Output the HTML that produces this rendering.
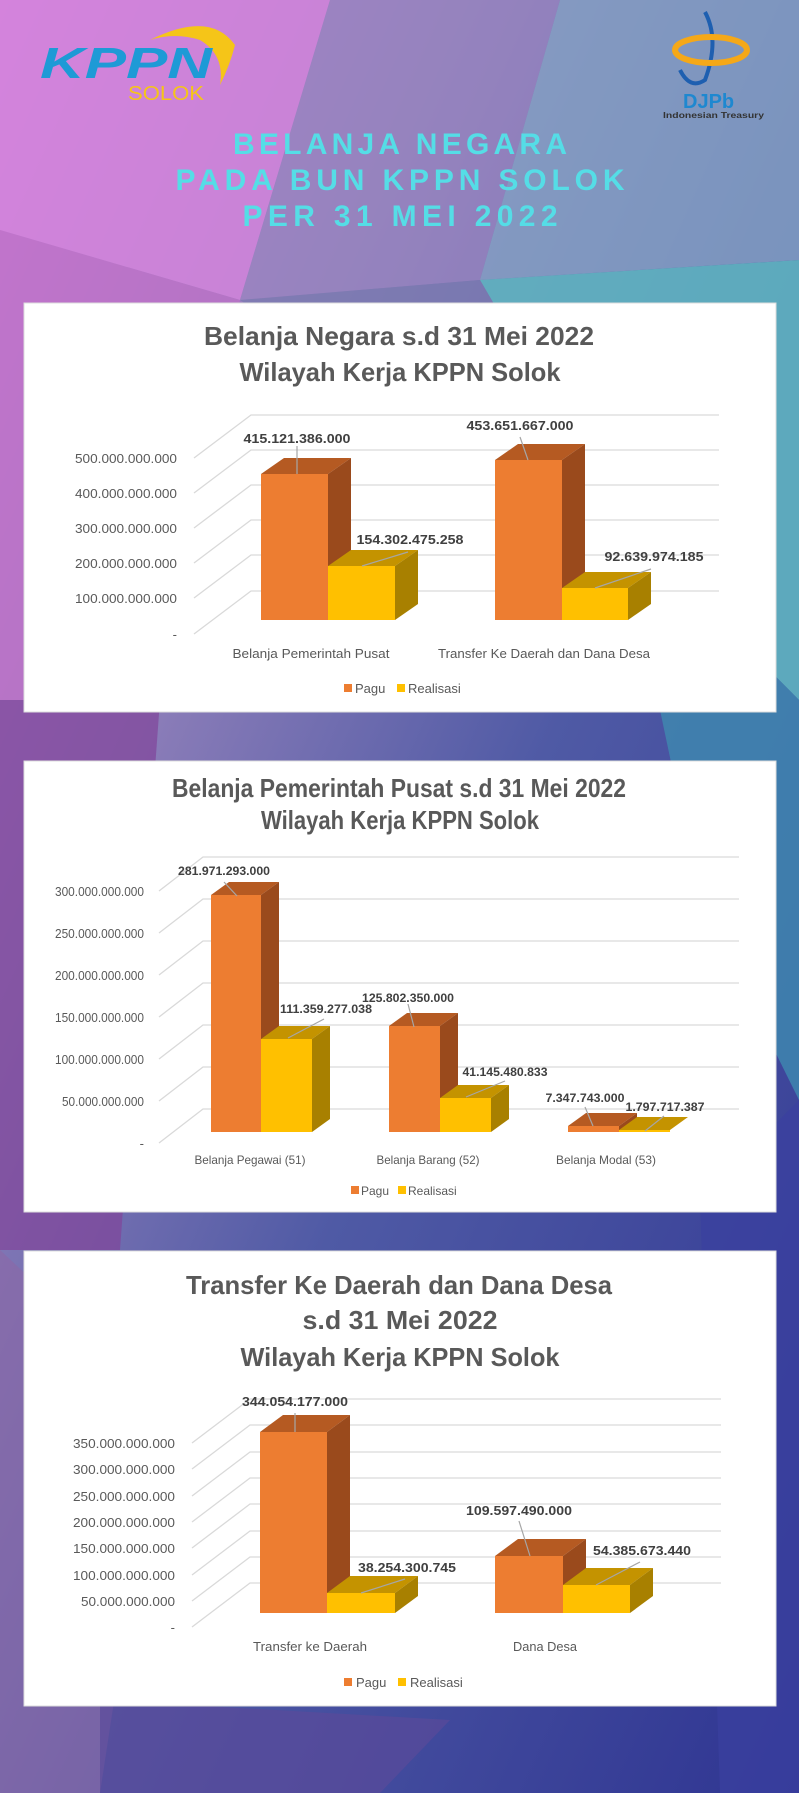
<!DOCTYPE html>
<html><head><meta charset="utf-8"><style>
html,body{margin:0;padding:0;width:799px;height:1793px;overflow:hidden}
svg{display:block}
text{font-family:"Liberation Sans",sans-serif}
.ax{font-size:13px;fill:#595959;text-anchor:end}
.dl{font-size:13px;font-weight:bold;fill:#404040;text-anchor:middle}
.ct{font-size:13px;fill:#595959;text-anchor:middle}
.ti{font-size:26px;font-weight:bold;fill:#595959;text-anchor:middle}
.g{stroke:#d9d9d9;stroke-width:1.3;fill:none}
.ld{stroke:#a6a6a6;stroke-width:1.2}
.of{fill:#ed7d31}.ot{fill:#b55a22}.os{fill:#9a4a1c}
.yf{fill:#ffc000}.yt{fill:#c49300}.ys{fill:#a88000}
.ht{font-size:30px;font-weight:bold;fill:#55dde6;text-anchor:middle}
</style></head><body>
<svg width="799" height="1793" viewBox="0 0 799 1793" xmlns="http://www.w3.org/2000/svg">
<defs>
<linearGradient id="bg" x1="0" y1="0" x2="1" y2="1">
<stop offset="0" stop-color="#d07fdc"/><stop offset="0.3" stop-color="#8a7cb8"/><stop offset="0.55" stop-color="#4f5aa5"/><stop offset="1" stop-color="#2f3592"/>
</linearGradient>
</defs>
<rect width="799" height="1793" fill="url(#bg)"/>
<polygon points="0,0 330,0 240,300 0,230" fill="#d585dc" opacity="0.8"/>
<polygon points="330,0 560,0 480,280 240,300" fill="#9a86c0" opacity="0.7"/>
<polygon points="560,0 799,0 799,260 480,280" fill="#86a3c4" opacity="0.8"/>
<polygon points="480,280 799,260 799,700 620,520" fill="#5fb2c0" opacity="0.9"/>
<polygon points="240,300 480,280 620,520 300,340" fill="#7a7ab0" opacity="0.8"/>
<polygon points="0,230 240,300 160,700 0,700" fill="#c070c8" opacity="0.7"/>
<polygon points="620,520 799,700 799,1100 700,900" fill="#3f8ab0" opacity="0.8"/>
<polygon points="0,700 160,700 120,1250 0,1250" fill="#80449a" opacity="0.7"/>
<polygon points="0,1250 160,1400 100,1793 0,1793" fill="#8a6aa8" opacity="0.7"/>
<polygon points="100,1700 450,1720 380,1793 100,1793" fill="#5a4a9a" opacity="0.7"/>
<polygon points="700,1200 799,1100 799,1793 720,1793" fill="#3a40a0" opacity="0.7"/>

<!-- KPPN logo -->
<path d="M 150,40 Q 210,10 235,45 Q 230,65 220,85 Q 225,55 200,40 Q 175,32 150,40 Z" fill="#f5c518"/>
<text x="40" y="78" font-size="44" font-weight="bold" font-style="italic" fill="#1e9ad6" textLength="172" lengthAdjust="spacingAndGlyphs">KPPN</text>
<text x="128" y="100" font-size="20" fill="#f5c518" textLength="76" lengthAdjust="spacingAndGlyphs">SOLOK</text>
<!-- DJPb logo -->
<path d="M 705,12 Q 720,40 705,80 Q 690,90 680,70" fill="none" stroke="#1e5fb0" stroke-width="4"/>
<ellipse cx="711" cy="50" rx="36" ry="13" fill="none" stroke="#f5a818" stroke-width="6"/>
<text x="683" y="108" font-size="20" font-weight="bold" fill="#1e88d0">DJPb</text>
<text x="663" y="118" font-size="8" font-weight="bold" fill="#333" textLength="101" lengthAdjust="spacingAndGlyphs">Indonesian Treasury</text>

<text class="ht" x="400" y="154" textLength="334" lengthAdjust="spacing">BELANJA NEGARA</text>
<text class="ht" x="400" y="190" textLength="449" lengthAdjust="spacing">PADA BUN KPPN SOLOK</text>
<text class="ht" x="400" y="226" textLength="315" lengthAdjust="spacing">PER 31 MEI 2022</text>

<!-- Chart 1 -->
<rect x="24" y="303" width="752" height="409" fill="#fff" stroke="#ddd"/>
<text class="ti" x="399" y="345" textLength="390" lengthAdjust="spacingAndGlyphs">Belanja Negara s.d 31 Mei 2022</text>
<text class="ti" x="400" y="381" textLength="321" lengthAdjust="spacingAndGlyphs">Wilayah Kerja KPPN Solok</text>
<g class="g">
<path d="M194,458L251,415H719M194,493L251,450H719M194,528L251,485H719M194,563L251,520H719M194,598L251,555H719M194,634L251,591H719"/>
</g>
<g class="ax">
<text x="177" y="463" textLength="102" lengthAdjust="spacingAndGlyphs">500.000.000.000</text>
<text x="177" y="498" textLength="102" lengthAdjust="spacingAndGlyphs">400.000.000.000</text>
<text x="177" y="533" textLength="102" lengthAdjust="spacingAndGlyphs">300.000.000.000</text>
<text x="177" y="568" textLength="102" lengthAdjust="spacingAndGlyphs">200.000.000.000</text>
<text x="177" y="603" textLength="102" lengthAdjust="spacingAndGlyphs">100.000.000.000</text>
<text x="177" y="639">-</text>
</g>
<rect class="of" x="261" y="474" width="67" height="146"/>
<polygon class="ot" points="261,474 284,458 351,458 328,474"/>
<polygon class="os" points="328,474 351,458 351,604 328,620"/>
<rect class="yf" x="328" y="566" width="67" height="54"/>
<polygon class="yt" points="328,566 351,550 418,550 395,566"/>
<polygon class="ys" points="395,566 418,550 418,604 395,620"/>
<rect class="of" x="495" y="460" width="67" height="160"/>
<polygon class="ot" points="495,460 518,444 585,444 562,460"/>
<polygon class="os" points="562,460 585,444 585,604 562,620"/>
<rect class="yf" x="562" y="588" width="66" height="32"/>
<polygon class="yt" points="562,588 585,572 651,572 628,588"/>
<polygon class="ys" points="628,588 651,572 651,604 628,620"/>
<g class="ld"><line x1="297" y1="446" x2="297" y2="474"/><line x1="408" y1="552" x2="362" y2="566"/><line x1="520" y1="437" x2="528" y2="460"/><line x1="651" y1="569" x2="595" y2="588"/></g>
<g class="dl">
<text x="297" y="443" textLength="107" lengthAdjust="spacingAndGlyphs">415.121.386.000</text>
<text x="410" y="544" textLength="107" lengthAdjust="spacingAndGlyphs">154.302.475.258</text>
<text x="520" y="430" textLength="107" lengthAdjust="spacingAndGlyphs">453.651.667.000</text>
<text x="654" y="561" textLength="99" lengthAdjust="spacingAndGlyphs">92.639.974.185</text>
</g>
<text class="ct" x="311" y="658" textLength="157" lengthAdjust="spacingAndGlyphs">Belanja Pemerintah Pusat</text>
<text class="ct" x="544" y="658" textLength="212" lengthAdjust="spacingAndGlyphs">Transfer Ke Daerah dan Dana Desa</text>
<rect class="of" x="344" y="684" width="8" height="8"/><text x="355" y="693" font-size="13" fill="#595959">Pagu</text>
<rect class="yf" x="397" y="684" width="8" height="8"/><text x="408" y="693" font-size="13" fill="#595959">Realisasi</text>

<!-- Chart 2 -->
<rect x="24" y="761" width="752" height="451" fill="#fff" stroke="#ddd"/>
<text class="ti" x="399" y="797" font-size="24" textLength="454" lengthAdjust="spacingAndGlyphs">Belanja Pemerintah Pusat s.d 31 Mei 2022</text>
<text class="ti" x="400" y="829" font-size="24" textLength="278" lengthAdjust="spacingAndGlyphs">Wilayah Kerja KPPN Solok</text>
<g class="g">
<path d="M159,891L203,857H739M159,933L203,899H739M159,975L203,941H739M159,1017L203,983H739M159,1059L203,1025H739M159,1101L203,1067H739M159,1143L203,1109H739"/>
</g>
<g class="ax">
<text x="144" y="896" textLength="89" lengthAdjust="spacingAndGlyphs">300.000.000.000</text>
<text x="144" y="938" textLength="89" lengthAdjust="spacingAndGlyphs">250.000.000.000</text>
<text x="144" y="980" textLength="89" lengthAdjust="spacingAndGlyphs">200.000.000.000</text>
<text x="144" y="1022" textLength="89" lengthAdjust="spacingAndGlyphs">150.000.000.000</text>
<text x="144" y="1064" textLength="89" lengthAdjust="spacingAndGlyphs">100.000.000.000</text>
<text x="144" y="1106" textLength="82" lengthAdjust="spacingAndGlyphs">50.000.000.000</text>
<text x="144" y="1148">-</text>
</g>
<rect class="of" x="211" y="895" width="50" height="237"/>
<polygon class="ot" points="211,895 229,882 279,882 261,895"/>
<polygon class="os" points="261,895 279,882 279,1119 261,1132"/>
<rect class="yf" x="261" y="1039" width="51" height="93"/>
<polygon class="yt" points="261,1039 279,1026 330,1026 312,1039"/>
<polygon class="ys" points="312,1039 330,1026 330,1119 312,1132"/>
<rect class="of" x="389" y="1026" width="51" height="106"/>
<polygon class="ot" points="389,1026 407,1013 458,1013 440,1026"/>
<polygon class="os" points="440,1026 458,1013 458,1119 440,1132"/>
<rect class="yf" x="440" y="1098" width="51" height="34"/>
<polygon class="yt" points="440,1098 458,1085 509,1085 491,1098"/>
<polygon class="ys" points="491,1098 509,1085 509,1119 491,1132"/>
<rect class="of" x="568" y="1126" width="51" height="6"/>
<polygon class="ot" points="568,1126 586,1113 637,1113 619,1126"/>
<polygon class="os" points="619,1126 637,1113 637,1119 619,1132"/>
<rect class="yf" x="619" y="1130" width="51" height="2"/>
<polygon class="yt" points="619,1130 637,1117 688,1117 670,1130"/>
<g class="ld"><line x1="224" y1="882" x2="237" y2="896"/><line x1="324" y1="1019" x2="288" y2="1038"/><line x1="408" y1="1004" x2="414" y2="1027"/><line x1="505" y1="1081" x2="466" y2="1097"/><line x1="585" y1="1107" x2="593" y2="1126"/><line x1="664" y1="1116" x2="645" y2="1131"/></g>
<g class="dl" style="font-size:12px">
<text x="224" y="875" textLength="92" lengthAdjust="spacingAndGlyphs">281.971.293.000</text>
<text x="326" y="1013" textLength="92" lengthAdjust="spacingAndGlyphs">111.359.277.038</text>
<text x="408" y="1002" textLength="92" lengthAdjust="spacingAndGlyphs">125.802.350.000</text>
<text x="505" y="1076" textLength="85" lengthAdjust="spacingAndGlyphs">41.145.480.833</text>
<text x="585" y="1102" textLength="79" lengthAdjust="spacingAndGlyphs">7.347.743.000</text>
<text x="665" y="1111" textLength="79" lengthAdjust="spacingAndGlyphs">1.797.717.387</text>
</g>
<g class="ct" style="font-size:12px">
<text x="250" y="1164" textLength="111" lengthAdjust="spacingAndGlyphs">Belanja Pegawai (51)</text>
<text x="428" y="1164" textLength="103" lengthAdjust="spacingAndGlyphs">Belanja Barang (52)</text>
<text x="606" y="1164" textLength="100" lengthAdjust="spacingAndGlyphs">Belanja Modal (53)</text>
</g>
<rect class="of" x="351" y="1186" width="8" height="8"/><text x="361" y="1195" font-size="12" fill="#595959">Pagu</text>
<rect class="yf" x="398" y="1186" width="8" height="8"/><text x="408" y="1195" font-size="12" fill="#595959">Realisasi</text>

<!-- Chart 3 -->
<rect x="24" y="1251" width="752" height="455" fill="#fff" stroke="#ddd"/>
<text class="ti" x="399" y="1294" font-size="27" textLength="426" lengthAdjust="spacingAndGlyphs">Transfer Ke Daerah dan Dana Desa</text>
<text class="ti" x="400" y="1329" font-size="27" textLength="195" lengthAdjust="spacingAndGlyphs">s.d 31 Mei 2022</text>
<text class="ti" x="400" y="1366" font-size="27" textLength="319" lengthAdjust="spacingAndGlyphs">Wilayah Kerja KPPN Solok</text>
<g class="g">
<path d="M192,1443L250,1399H721M192,1469L250,1425H721M192,1496L250,1452H721M192,1522L250,1478H721M192,1548L250,1504H721M192,1575L250,1531H721M192,1601L250,1557H721M192,1627L250,1583H721"/>
</g>
<g class="ax">
<text x="175" y="1448" textLength="102" lengthAdjust="spacingAndGlyphs">350.000.000.000</text>
<text x="175" y="1474" textLength="102" lengthAdjust="spacingAndGlyphs">300.000.000.000</text>
<text x="175" y="1501" textLength="102" lengthAdjust="spacingAndGlyphs">250.000.000.000</text>
<text x="175" y="1527" textLength="102" lengthAdjust="spacingAndGlyphs">200.000.000.000</text>
<text x="175" y="1553" textLength="102" lengthAdjust="spacingAndGlyphs">150.000.000.000</text>
<text x="175" y="1580" textLength="102" lengthAdjust="spacingAndGlyphs">100.000.000.000</text>
<text x="175" y="1606" textLength="94" lengthAdjust="spacingAndGlyphs">50.000.000.000</text>
<text x="175" y="1632">-</text>
</g>
<rect class="of" x="260" y="1432" width="67" height="181"/>
<polygon class="ot" points="260,1432 283,1415 350,1415 327,1432"/>
<polygon class="os" points="327,1432 350,1415 350,1596 327,1613"/>
<rect class="yf" x="327" y="1593" width="68" height="20"/>
<polygon class="yt" points="327,1593 350,1576 418,1576 395,1593"/>
<polygon class="ys" points="395,1593 418,1576 418,1596 395,1613"/>
<rect class="of" x="495" y="1556" width="68" height="57"/>
<polygon class="ot" points="495,1556 518,1539 586,1539 563,1556"/>
<polygon class="os" points="563,1556 586,1539 586,1596 563,1613"/>
<rect class="yf" x="563" y="1585" width="67" height="28"/>
<polygon class="yt" points="563,1585 586,1568 653,1568 630,1585"/>
<polygon class="ys" points="630,1585 653,1568 653,1596 630,1613"/>
<g class="ld"><line x1="295" y1="1413" x2="295" y2="1432"/><line x1="405" y1="1579" x2="361" y2="1593"/><line x1="519" y1="1521" x2="530" y2="1556"/><line x1="640" y1="1562" x2="596" y2="1585"/></g>
<g class="dl">
<text x="295" y="1406" textLength="106" lengthAdjust="spacingAndGlyphs">344.054.177.000</text>
<text x="407" y="1572" textLength="98" lengthAdjust="spacingAndGlyphs">38.254.300.745</text>
<text x="519" y="1515" textLength="106" lengthAdjust="spacingAndGlyphs">109.597.490.000</text>
<text x="642" y="1555" textLength="98" lengthAdjust="spacingAndGlyphs">54.385.673.440</text>
</g>
<text class="ct" x="310" y="1651" textLength="114" lengthAdjust="spacingAndGlyphs">Transfer ke Daerah</text>
<text class="ct" x="545" y="1651" textLength="64" lengthAdjust="spacingAndGlyphs">Dana Desa</text>
<rect class="of" x="344" y="1678" width="8" height="8"/><text x="356" y="1687" font-size="13" fill="#595959">Pagu</text>
<rect class="yf" x="398" y="1678" width="8" height="8"/><text x="410" y="1687" font-size="13" fill="#595959">Realisasi</text>
</svg>
</body></html>
